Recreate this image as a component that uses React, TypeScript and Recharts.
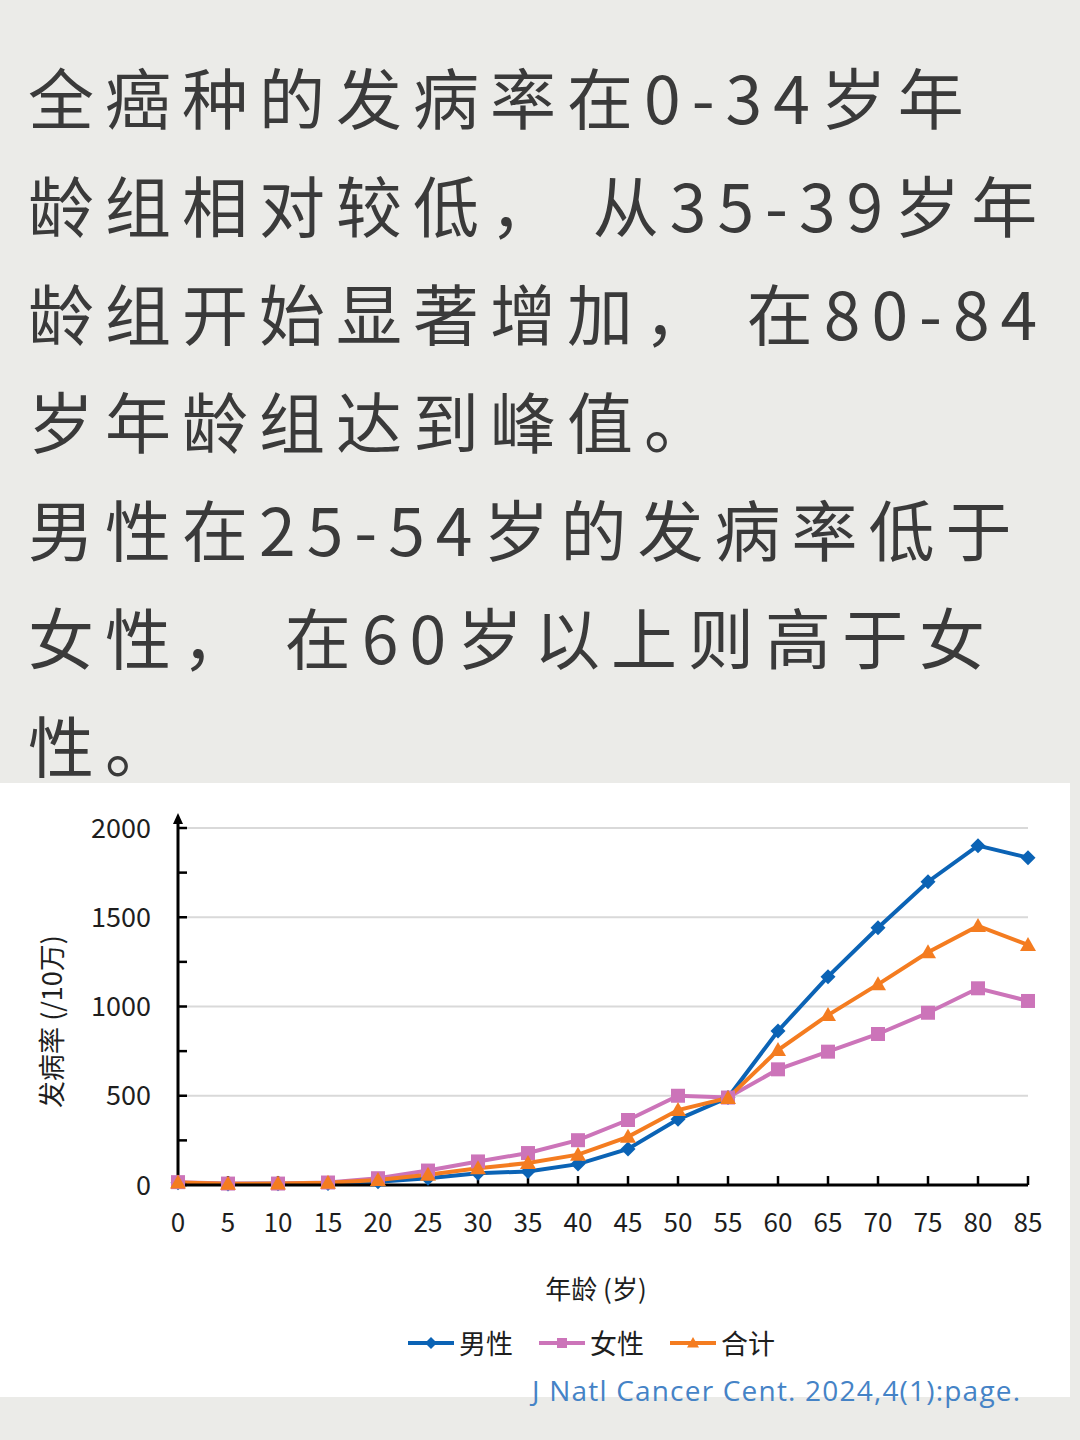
import React from 'react';
import { LineChart, Line, XAxis, YAxis, ReferenceLine, Legend } from 'recharts';

// age group start (years)
const AGES = [0, 5, 10, 15, 20, 25, 30, 35, 40, 45, 50, 55, 60, 65, 70, 75, 80, 85];
// incidence per 100k
const MALE = [12, 6, 7, 9, 18, 38, 66, 76, 117, 202, 368, 490, 863, 1167, 1441, 1699, 1901, 1834];
const FEMALE = [16, 8, 8, 14, 38, 81, 132, 179, 251, 364, 500, 490, 648, 747, 846, 965, 1102, 1031];
const TOTAL = [14, 7, 8, 12, 28, 57, 94, 123, 170, 270, 420, 488, 756, 952, 1124, 1304, 1451, 1345];

const Y_TICKS = [0, 250, 500, 750, 1000, 1250, 1500, 1750, 2000];
const GRID_VALUES = [500, 1000, 1500, 2000];
const SERIES_NAMES = ['男性', '女性', '合计'];

const HEADLINE = [
  '全癌种的发病率在0-34岁年',
  '龄组相对较低， 从35-39岁年',
  '龄组开始显著增加， 在80-84',
  '岁年龄组达到峰值。',
  '男性在25-54岁的发病率低于',
  '女性， 在60岁以上则高于女',
  '性。',
];

const CITATION = 'J Natl Cancer Cent. 2024,4(1):page.';

const BLUE = '#0b63b5';
const PINK = '#cc74b9';
const ORANGE = '#f47c20';
const FONT = '"Noto Sans CJK SC", "Noto Sans", sans-serif';

const data = AGES.map((age, i) => ({ age, male: MALE[i], female: FEMALE[i], total: TOTAL[i] }));

const diamond = (cx: number, cy: number, r: number) =>
  `M${cx},${cy - r}L${cx + r},${cy}L${cx},${cy + r}L${cx - r},${cy}Z`;
const square = (cx: number, cy: number, r: number) =>
  `M${cx - r},${cy - r}H${cx + r}V${cy + r}H${cx - r}Z`;
const triangle = (cx: number, cy: number, r: number) =>
  `M${cx},${cy - r}L${cx + r},${cy + r * 0.75}L${cx - r},${cy + r * 0.75}Z`;

const makeDot = (shape: (cx: number, cy: number, r: number) => string, r: number, fill: string) =>
  (p: any) => (p.cx == null ? <g key={p.index} /> : <path key={p.index} d={shape(p.cx, p.cy, r)} fill={fill} />);

const legendItems = [
  { name: SERIES_NAMES[0], color: BLUE, shape: diamond, r: 6 },
  { name: SERIES_NAMES[1], color: PINK, shape: square, r: 5 },
  { name: SERIES_NAMES[2], color: ORANGE, shape: triangle, r: 6 },
];

const renderLegend = () => (
  <div style={{ position: 'relative', height: 82, fontFamily: FONT }}>
    <div style={{ position: 'absolute', left: 406, top: 8, display: 'flex', alignItems: 'center' }}>
      {legendItems.map(it => (
        <div key={it.name} style={{ display: 'flex', alignItems: 'center', marginRight: 24 }}>
          <svg width={50} height={20}>
            <line x1={2} y1={10} x2={48} y2={10} stroke={it.color} strokeWidth={4} />
            <path d={it.shape(25, 10, it.r)} fill={it.color} />
          </svg>
          <span style={{ fontSize: 27, color: '#1e1e1e', marginLeft: 3 }}>{it.name}</span>
        </div>
      ))}
    </div>
    <div style={{
      position: 'absolute', left: 532, top: 56, fontFamily: '"Open Sans", sans-serif',
      fontSize: 28, letterSpacing: 1.2, color: '#4583c6', whiteSpace: 'nowrap',
    }}>{CITATION}</div>
  </div>
);

const renderYLabel = (props: any) => {
  const vb = props.viewBox;
  const ax = vb.x + vb.width;
  const top = vb.y;
  const cy = top + vb.height / 2 + 15;
  return (
    <g>
      <line x1={ax} y1={top} x2={ax} y2={top - 10} stroke="#000" strokeWidth={3} />
      <path d={`M${ax},${top - 15}L${ax + 5},${top - 4}L${ax - 5},${top - 4}Z`} fill="#000" />
      <text x={50} y={cy} transform={`rotate(-90 50 ${cy})`} textAnchor="middle" dominantBaseline="central"
        fontSize={27} fill="#1e1e1e" fontFamily={FONT}>发病率 (/10万)</text>
    </g>
  );
};

export default function App() {
  return (
    <div style={{ position: 'absolute', left: 0, top: 0, width: 1080, height: 1440, background: '#ebebe8', overflow: 'hidden' }}>
      <div style={{
        position: 'absolute', left: 28, top: 41, fontFamily: FONT, fontSize: 66, lineHeight: '108px',
        letterSpacing: 11, color: '#3a3a3a', whiteSpace: 'pre',
      }}>
        {HEADLINE.map(l => <div key={l}>{l}</div>)}
      </div>

      <div style={{ position: 'absolute', left: 0, top: 783, width: 1070, height: 614, background: '#fff' }}>
        <LineChart width={1070} height={614} data={data} margin={{ top: 45, right: 42, left: 0, bottom: 0 }}>
          {GRID_VALUES.map(v => (
            <ReferenceLine key={v} y={v} stroke="#d9d9d9" strokeWidth={2} />
          ))}
          <XAxis
            dataKey="age" type="number" domain={[0, 85]} ticks={AGES} interval={0} height={130}
            axisLine={{ stroke: '#000', strokeWidth: 3 }} tickLine={{ stroke: '#000', strokeWidth: 2.5 }}
            tickSize={-9} tickMargin={38}
            tick={{ fontSize: 26, fill: '#1e1e1e', fontFamily: FONT }}
            label={{ value: '年龄 (岁)', position: 'insideBottom', offset: 16, dx: -7, fontSize: 26, fill: '#1e1e1e', fontFamily: FONT }}
          />
          <YAxis
            type="number" domain={[0, 2000]} ticks={Y_TICKS} interval={0} width={178}
            axisLine={{ stroke: '#000', strokeWidth: 3 }} tickLine={{ stroke: '#000', strokeWidth: 2.5 }}
            tickSize={-9} tickMargin={36}
            tickFormatter={(v: number) => (v % 500 === 0 ? String(v) : '')}
            tick={{ fontSize: 27, fill: '#1e1e1e', fontFamily: FONT }}
            label={{ content: renderYLabel }}
          />
          <Legend verticalAlign="bottom" height={82} content={renderLegend} />
          <Line dataKey="male" name={SERIES_NAMES[0]} stroke={BLUE} strokeWidth={4}
            dot={makeDot(diamond, 7.5, BLUE)} isAnimationActive={false} />
          <Line dataKey="female" name={SERIES_NAMES[1]} stroke={PINK} strokeWidth={4}
            dot={makeDot(square, 7, PINK)} isAnimationActive={false} />
          <Line dataKey="total" name={SERIES_NAMES[2]} stroke={ORANGE} strokeWidth={4}
            dot={makeDot(triangle, 8, ORANGE)} isAnimationActive={false} />
        </LineChart>
      </div>
    </div>
  );
}
